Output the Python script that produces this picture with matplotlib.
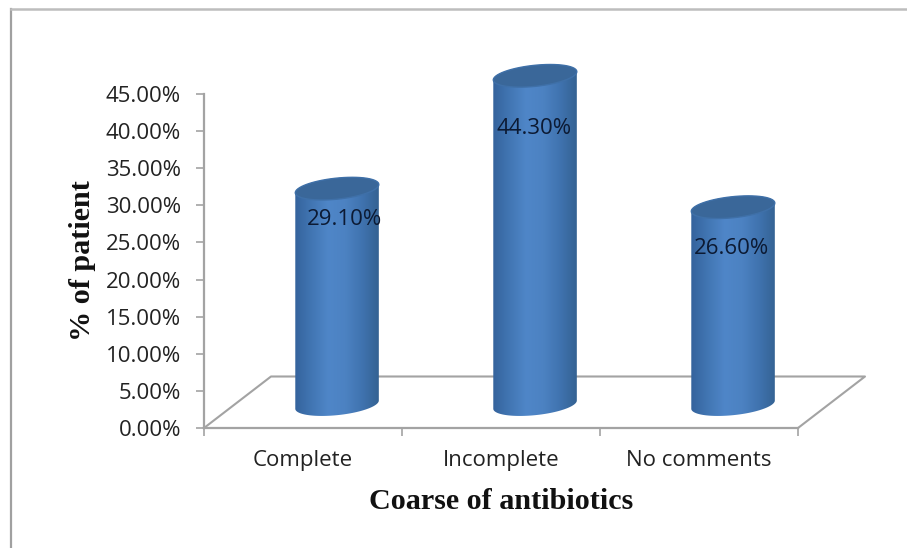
import numpy as np
import matplotlib
matplotlib.use('Agg')
import matplotlib.pyplot as plt
from matplotlib.colors import LinearSegmentedColormap
from matplotlib.lines import Line2D
from matplotlib.patches import Polygon

categories = ['Complete', 'Incomplete', 'No comments']
values = [29.1, 44.3, 26.6]
value_labels = ['29.10%', '44.30%', '26.60%']
y_ticks = [0, 5, 10, 15, 20, 25, 30, 35, 40, 45]

W, H = 907, 548
GREY = '#a3a3a3'
PX_X = 3 / 594    # categories per pixel
PX_Y = 45 / 334   # percent per pixel

fig = plt.figure(figsize=(W / 100, H / 100), dpi=100)
ax = fig.add_axes([204 / W, 1 - 428 / H, 594 / W, 334 / H])
ax.set_xlim(0, 3)
ax.set_ylim(0, 45)


def ellipse_arc(cx, cy, t0, t1, a=42, b=10.5, tilt=6):
    # tilted ellipse worked out in pixels, handed back in data units
    t = np.radians(np.linspace(t0, t1, 60))
    r = np.radians(tilt)
    dx = a * np.cos(t) * np.cos(r) - b * np.sin(t) * np.sin(r)
    dy = a * np.cos(t) * np.sin(r) + b * np.sin(t) * np.cos(r)
    return np.column_stack([cx + dx * PX_X, cy + dy * PX_Y])


# floor of the 3D chart
floor_dx, floor_dy = 67 * PX_X, 51.5 * PX_Y
ax.plot([0, floor_dx, 3 + floor_dx, 3], [0, floor_dy, floor_dy, 0],
        color=GREY, lw=1.5, clip_on=False, zorder=1)

# cylinders
side = LinearSegmentedColormap.from_list(
    'side', ['#33619a', '#4175b2', '#4f86c8', '#4c82c2', '#3f72ae', '#33608f'])
base = 3.15
for i, v in enumerate(values):
    cx = i + 0.672
    outline = np.vstack([ellipse_arc(cx, base, 180, 360),
                         ellipse_arc(cx, base + v, 0, 180)])
    clip = Polygon(outline, closed=True, transform=ax.transData,
                   facecolor='none', edgecolor='none')
    ax.add_patch(clip)
    clip.set_clip_on(False)
    grad = np.linspace(0, 1, 128).reshape(1, -1)
    im = ax.imshow(grad, cmap=side, aspect='auto', zorder=3,
                   extent=[cx - 44 * PX_X, cx + 44 * PX_X, base - 3, base + v + 3])
    im.set_clip_box(fig.bbox)
    im.set_clip_path(clip)
    top = Polygon(ellipse_arc(cx, base + v, 0, 360), closed=True, facecolor='#3a6799',
                  edgecolor='#3f70a8', lw=1, zorder=4, clip_on=False)
    ax.add_patch(top)
ax.set_xlim(0, 3)
ax.set_ylim(0, 45)

# labels sit by hand in the original, so each has its own offset
label_dx = [7, -1, -2]
label_dy = [-30.5, -52.5, -41]
for i, v in enumerate(values):
    ax.annotate(value_labels[i], (i + 0.672, base + v), xytext=(label_dx[i] * 0.72, label_dy[i] * 0.72),
                textcoords='offset points', ha='center', va='center', fontsize=16,
                family='Open Sans', color='#0c1a33', zorder=5, annotation_clip=False)

for s in ['top', 'right']:
    ax.spines[s].set_visible(False)
for s in ['left', 'bottom']:
    ax.spines[s].set_color(GREY)
    ax.spines[s].set_linewidth(1.6)
    ax.spines[s].set_zorder(2)

ax.set_yticks(y_ticks)
ax.set_yticklabels(['%.2f%%' % t for t in y_ticks], family='Open Sans', fontsize=16, color='#222222')
ax.set_xticks([0, 1, 2, 3])
ax.set_xticklabels([])
ax.set_xticks([0.5, 1.5, 2.5], labels=categories, minor=True, family='Open Sans',
              fontsize=16, color='#222222')
ax.tick_params(axis='y', length=5.5, width=1.2, color=GREY, pad=11)
ax.tick_params(axis='x', which='major', length=5.5, width=1.2, color=GREY)
ax.tick_params(axis='x', which='minor', length=0, pad=16)

ax.set_xlabel('Coarse of antibiotics', family='Liberation Serif', fontweight='bold',
              fontsize=21.7, color='#111111', labelpad=12)
ax.set_ylabel('% of patient', family='Liberation Serif', fontweight='bold',
              fontsize=21.7, color='#111111', labelpad=7)

# outer chart frame, only the top and left edges survive in the scan
fig.add_artist(Line2D([11 / W, 11 / W], [0, 1 - 9 / H], color='#a0a0a0', lw=1.6))
fig.add_artist(Line2D([11 / W, 1], [1 - 9 / H, 1 - 9 / H], color='#bdbdbd', lw=1.8))

fig.savefig('out.png', dpi=100)
